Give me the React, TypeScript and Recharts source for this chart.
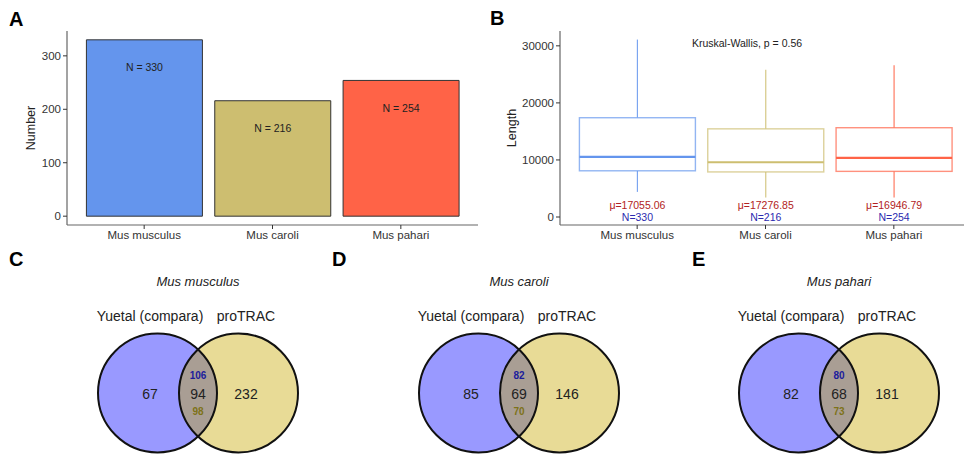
import React from "react";
import { BarChart, Bar, Cell, XAxis, YAxis, LabelList, ScatterChart, Scatter } from "recharts";

// piRNA cluster counts per species (panel A)
const species = ["Mus musculus", "Mus caroli", "Mus pahari"];
const clusterCounts = [330, 216, 254];
const speciesColors = ["#6495ED", "#CDBE70", "#FF6347"];

// cluster length summary (panel B)
const lenMin = [4400, 3400, 3400];
const lenQ1 = [8100, 7900, 8000];
const lenMedian = [10550, 9600, 10350];
const lenQ3 = [17400, 15450, 15650];
const lenMax = [31100, 25800, 26600];
const lenMean = ["17055.06", "17276.85", "16946.79"];
const lengthTicks = [0, 10000, 20000, 30000];
const countTicks = [0, 100, 200, 300];

// venn overlaps (panels C-E)
const vennSetNames = ["Yuetal (compara)", "proTRAC"];
const onlyYuetal = [67, 85, 82];
const sharedBoth = [94, 69, 68];
const onlyProtrac = [232, 146, 181];
const sharedByYuetal = [106, 82, 80];
const sharedByProtrac = [98, 70, 73];

const FONT = "'Liberation Sans', Arial, Helvetica, sans-serif";
const AXIS = "#666";
const TICK_TEXT = { fontSize: 11.5, fill: "#333" };

const barData = species.map((s, i) => ({
  species: s,
  count: clusterCounts[i],
  label: `N = ${clusterCounts[i]}`,
}));

const boxData = species.map((s, i) => ({
  species: s,
  box: [lenQ1[i], lenQ3[i]],
  min: lenMin[i],
  q1: lenQ1[i],
  median: lenMedian[i],
  q3: lenQ3[i],
  max: lenMax[i],
  mean: lenMean[i],
  n: clusterCounts[i],
  color: speciesColors[i],
}));

function BoxShape(props: any) {
  const { x, y, width, height, payload } = props;
  const top = Math.min(y, y + height);
  const h = Math.abs(height);
  const ppu = h / (payload.q3 - payload.q1);
  const cx = x + width / 2;
  const yMax = top - (payload.max - payload.q3) * ppu;
  const yMin = top + h + (payload.q1 - payload.min) * ppu;
  const yMed = top + (payload.q3 - payload.median) * ppu;
  const yZero = top + h + payload.q1 * ppu;
  return (
    <g>
      <line x1={cx} x2={cx} y1={yMax} y2={top} stroke={payload.color} strokeWidth={1.2} strokeOpacity={0.85} />
      <line x1={cx} x2={cx} y1={top + h} y2={yMin} stroke={payload.color} strokeWidth={1.2} strokeOpacity={0.85} />
      <rect x={x} y={top} width={width} height={h} fill="#fff" stroke={payload.color} strokeWidth={1.4} strokeOpacity={0.7} />
      <line x1={x} x2={x + width} y1={yMed} y2={yMed} stroke={payload.color} strokeWidth={2.2} />
      <text x={cx} y={yZero - 12} textAnchor="middle" dominantBaseline="central" fontSize={10.5} fill="#B22222">
        {`\u03bc=${payload.mean}`}
      </text>
      <text x={cx} y={yZero} textAnchor="middle" dominantBaseline="central" fontSize={10.5} fill="#2B2BB0">
        {`N=${payload.n}`}
      </text>
    </g>
  );
}

// venn geometry in chart units (1 unit = 1 px)
const VW = 290;
const VH = 211;
const R = 59.5;
const HALF_D = 40.5;
const CY = -42.5;

function CircleFill(props: any) {
  const { cx, cy, payload } = props;
  return <circle cx={cx} cy={cy} r={R} fill={payload.fill} />;
}

function CircleLine(props: any) {
  const { cx, cy } = props;
  return <circle cx={cx} cy={cy} r={R} fill="none" stroke="#111" strokeWidth={2} />;
}

function Lens(props: any) {
  const { cx, cy } = props;
  const hh = Math.sqrt(R * R - HALF_D * HALF_D);
  const d = `M${cx},${cy - hh} A${R},${R} 0 0 1 ${cx},${cy + hh} A${R},${R} 0 0 1 ${cx},${cy - hh} Z`;
  return <path d={d} fill="#A99E94" />;
}

const textStyles: Record<string, any> = {
  title: { fontSize: 13, fontStyle: "italic", fill: "#222" },
  set: { fontSize: 14, fill: "#222" },
  num: { fontSize: 14, fill: "#222" },
  blue: { fontSize: 10, fontWeight: "bold", fill: "#1C1C9C" },
  olive: { fontSize: 10, fontWeight: "bold", fill: "#7D7218" },
};

function VennText(props: any) {
  const { cx, cy, payload } = props;
  return (
    <text x={cx} y={cy} textAnchor="middle" dominantBaseline="central" {...textStyles[payload.kind]}>
      {payload.label}
    </text>
  );
}

function VennPanel({ i }: { i: number }) {
  const circles = [
    { x: -HALF_D, y: CY, fill: "#9999FF" },
    { x: HALF_D, y: CY, fill: "#E8DB96" },
  ];
  const lens = [{ x: 0, y: CY }];
  const texts = [
    { x: 0, y: 69.5, label: species[i], kind: "title" },
    { x: -48, y: 34.5, label: vennSetNames[0], kind: "set" },
    { x: 48, y: 34.5, label: vennSetNames[1], kind: "set" },
    { x: -48, y: -43.5, label: String(onlyYuetal[i]), kind: "num" },
    { x: 0, y: -43.5, label: String(sharedBoth[i]), kind: "num" },
    { x: 48, y: -43.5, label: String(onlyProtrac[i]), kind: "num" },
    { x: 0, y: -24.5, label: String(sharedByYuetal[i]), kind: "blue" },
    { x: 0, y: -60.5, label: String(sharedByProtrac[i]), kind: "olive" },
  ];
  return (
    <ScatterChart width={VW} height={VH} margin={{ top: 0, right: 0, bottom: 0, left: 0 }}>
      <XAxis type="number" dataKey="x" domain={[-VW / 2, VW / 2]} hide />
      <YAxis type="number" dataKey="y" domain={[-VH / 2, VH / 2]} hide />
      <Scatter data={circles} shape={CircleFill} isAnimationActive={false} />
      <Scatter data={lens} shape={Lens} isAnimationActive={false} />
      <Scatter data={circles} shape={CircleLine} isAnimationActive={false} />
      <Scatter data={texts} shape={VennText} isAnimationActive={false} />
    </ScatterChart>
  );
}

const letterStyle: React.CSSProperties = {
  position: "absolute",
  fontSize: 20,
  fontWeight: "bold",
  lineHeight: "20px",
  color: "#000",
};

export default function App() {
  return (
    <div
      style={{
        position: "absolute",
        left: 0,
        top: 0,
        width: 965,
        height: 456,
        overflow: "hidden",
        background: "#fff",
        fontFamily: FONT,
      }}
    >
      {/* A: number of clusters */}
      <div style={{ position: "absolute", left: 0, top: 0 }}>
        <BarChart
          width={485}
          height={250}
          data={barData}
          margin={{ top: 31, right: 7, left: 27, bottom: 0 }}
          barCategoryGap="5%"
        >
          <XAxis
            dataKey="species"
            padding={{ left: 13, right: 13 }}
            height={25}
            interval={0}
            tickSize={4}
            tickMargin={2}
            tick={TICK_TEXT}
            axisLine={{ stroke: AXIS, strokeWidth: 1.2 }}
            tickLine={{ stroke: "#333" }}
          />
          <XAxis xAxisId="top" orientation="top" dataKey="species" height={0} tick={false} tickLine={false} axisLine={{ stroke: AXIS, strokeWidth: 1.2 }} />
          <YAxis
            domain={[-16.5, 346.5]}
            ticks={countTicks}
            width={40}
            tickSize={4}
            tickMargin={2}
            tick={TICK_TEXT}
            axisLine={{ stroke: AXIS, strokeWidth: 1.2 }}
            tickLine={{ stroke: "#333" }}
            label={{ value: "Number", angle: -90, position: "insideLeft", offset: 4, style: { textAnchor: "middle", fontSize: 12.5, fill: "#222" } }}
          />
          <YAxis yAxisId="r" orientation="right" width={0} tick={false} tickLine={false} axisLine={{ stroke: AXIS, strokeWidth: 1.2 }} />
          <Bar dataKey="count" stroke="#333" strokeWidth={1} isAnimationActive={false}>
            {barData.map((d, i) => (
              <Cell key={d.species} fill={speciesColors[i]} />
            ))}
            <LabelList dataKey="label" position="insideTop" offset={24} style={{ fontSize: 10.5, fill: "#222" }} />
          </Bar>
        </BarChart>
      </div>

      {/* B: cluster length */}
      <div style={{ position: "absolute", left: 480, top: 0 }}>
        <BarChart
          width={485}
          height={250}
          data={boxData}
          margin={{ top: 31, right: 1, left: 30, bottom: 0 }}
          barCategoryGap="5%"
        >
          <XAxis
            dataKey="species"
            padding={{ left: 13, right: 6 }}
            height={25}
            interval={0}
            tickSize={4}
            tickMargin={2}
            tick={TICK_TEXT}
            axisLine={{ stroke: AXIS, strokeWidth: 1.2 }}
            tickLine={{ stroke: "#333" }}
          />
          <XAxis xAxisId="top" orientation="top" dataKey="species" height={0} tick={false} tickLine={false} axisLine={{ stroke: AXIS, strokeWidth: 1.2 }} />
          <YAxis
            domain={[-1400, 32600]}
            ticks={lengthTicks}
            width={50}
            tickSize={4}
            tickMargin={2}
            tick={TICK_TEXT}
            axisLine={{ stroke: AXIS, strokeWidth: 1.2 }}
            tickLine={{ stroke: "#333" }}
            label={{ value: "Length", angle: -90, position: "insideLeft", offset: 2, style: { textAnchor: "middle", fontSize: 12.5, fill: "#222" } }}
          />
          <YAxis yAxisId="r" orientation="right" width={0} tick={false} tickLine={false} axisLine={{ stroke: AXIS, strokeWidth: 1.2 }} />
          <Bar dataKey="box" shape={BoxShape} isAnimationActive={false} />
        </BarChart>
      </div>
      <div
        style={{
          position: "absolute",
          left: 647,
          top: 36,
          width: 200,
          textAlign: "center",
          fontSize: 10.5,
          lineHeight: "14px",
          color: "#222",
        }}
      >
        Kruskal-Wallis, p = 0.56
      </div>

      {/* C-E: overlap between predictions */}
      <div style={{ position: "absolute", left: 53, top: 245 }}>
        <VennPanel i={0} />
      </div>
      <div style={{ position: "absolute", left: 374, top: 245 }}>
        <VennPanel i={1} />
      </div>
      <div style={{ position: "absolute", left: 694, top: 245 }}>
        <VennPanel i={2} />
      </div>

      <div style={{ ...letterStyle, left: 9, top: 9 }}>A</div>
      <div style={{ ...letterStyle, left: 490, top: 8 }}>B</div>
      <div style={{ ...letterStyle, left: 9, top: 249 }}>C</div>
      <div style={{ ...letterStyle, left: 332, top: 249 }}>D</div>
      <div style={{ ...letterStyle, left: 692, top: 249 }}>E</div>
    </div>
  );
}
